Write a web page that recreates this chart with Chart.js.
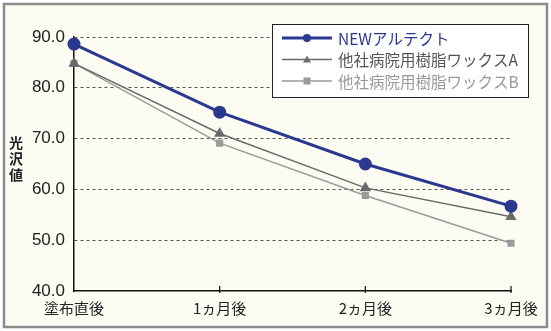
<!DOCTYPE html>
<html><head><meta charset="utf-8">
<script src="https://cdn.jsdelivr.net/npm/chart.js@4/dist/chart.umd.min.js"></script>
<style>html,body{margin:0;padding:0;background:#fff;}canvas{display:block;}</style>
</head><body>
<canvas id="c" width="551" height="331"></canvas>
<script>
const categories = ['塗布直後', '1ヵ月後', '2ヵ月後', '3ヵ月後'];
const seriesNames = ['NEWアルテクト', '他社病院用樹脂ワックスA', '他社病院用樹脂ワックスB'];
const newAltect = [88.6, 75.2, 65.0, 56.7];
const waxA = [84.8, 71.0, 60.3, 54.6];
const waxB = [84.8, 69.1, 58.8, 49.4];
const yTitleChars = ['光', '沢', '値'];

const FONT = '"Noto Sans CJK JP", "Noto Sans", sans-serif';

const frame = {
  id: 'frame',
  beforeDraw(chart) {
    const c = chart.ctx;
    c.save();
    c.fillStyle = '#fff';
    c.fillRect(0, 0, chart.width, chart.height);
    c.fillStyle = '#fdfcf3';
    c.fillRect(4, 4, chart.width - 8, chart.height - 8);
    c.strokeStyle = '#8c8c8c';
    c.lineWidth = 2.5;
    c.strokeRect(4, 4, chart.width - 8, chart.height - 8);
    c.restore();
  },
  afterDraw(chart) {
    const c = chart.ctx;
    const xs = chart.scales.x, ys = chart.scales.y;
    c.save();
    c.strokeStyle = '#111'; c.lineWidth = 1.2;
    categories.forEach((_, i) => {
      if (i === 0) return;
      const x = xs.getPixelForValue(i);
      c.beginPath(); c.moveTo(x, ys.bottom - 5); c.lineTo(x, ys.bottom + 2); c.stroke();
    });
    c.fillStyle = '#222';
    c.font = 'bold 14px ' + FONT;
    c.textAlign = 'center'; c.textBaseline = 'middle';
    yTitleChars.forEach((ch, i) => c.fillText(ch, 16, 143 + i * 16));
    const lx = 272, ly = 24, lw = 256, lh = 73;
    c.fillStyle = '#fff';
    c.fillRect(lx, ly, lw, lh);
    c.strokeStyle = '#222'; c.lineWidth = 1;
    c.strokeRect(lx + 0.5, ly + 0.5, lw, lh);
    const textColors = ['#2b3890', '#555', '#999'];
    chart.data.datasets.forEach((ds, i) => {
      const y = 38 + i * 21.5;
      c.strokeStyle = ds.borderColor; c.lineWidth = ds.borderWidth;
      c.beginPath(); c.moveTo(282, y); c.lineTo(332, y); c.stroke();
      c.fillStyle = ds.pointBackgroundColor;
      const mx = 307;
      if (ds.pointStyle === 'circle') { c.beginPath(); c.arc(mx, y, 4, 0, Math.PI * 2); c.fill(); }
      else if (ds.pointStyle === 'triangle') { c.beginPath(); c.moveTo(mx, y - 4); c.lineTo(mx + 4, y + 3); c.lineTo(mx - 4, y + 3); c.closePath(); c.fill(); }
      else { c.fillRect(mx - 3.5, y - 3.5, 7, 7); }
      c.fillStyle = textColors[i];
      c.font = '15.5px ' + FONT;
      c.textAlign = 'left'; c.textBaseline = 'middle';
      c.fillText(ds.label, 338, y + 1);
    });
    c.restore();
  }
};

new Chart(document.getElementById('c'), {
  type: 'line',
  data: {
    labels: categories,
    datasets: [
      { label: seriesNames[0], data: newAltect, borderColor: '#2b3890', backgroundColor: '#2b3890', pointBackgroundColor: '#2b3890', pointBorderColor: '#2b3890', borderWidth: 3, pointStyle: 'circle', pointRadius: 5, tension: 0, order: 0 },
      { label: seriesNames[1], data: waxA, borderColor: '#6a6a6a', backgroundColor: '#6a6a6a', pointBackgroundColor: '#6a6a6a', pointBorderColor: '#6a6a6a', borderWidth: 1.5, pointStyle: 'triangle', pointRadius: 5, tension: 0, order: 1 },
      { label: seriesNames[2], data: waxB, borderColor: '#9a9a9a', backgroundColor: '#9a9a9a', pointBackgroundColor: '#9a9a9a', pointBorderColor: '#9a9a9a', borderWidth: 1.5, pointStyle: 'rect', pointRadius: 4, tension: 0, order: 2 }
    ]
  },
  options: {
    responsive: false,
    animation: false,
    layout: { padding: { top: 37, right: 40, left: 0, bottom: 0 } },
    plugins: { legend: { display: false }, tooltip: { enabled: false } },
    scales: {
      x: {
        offset: false,
        afterFit(s) { s.height = 40; },
        grid: { display: false },
        border: { display: true, color: '#111', width: 1.5 },
        ticks: { color: '#222', font: { family: FONT, size: 15 }, padding: 0, maxRotation: 0 }
      },
      y: {
        min: 40, max: 90,
        afterFit(s) { s.width = 74; },
        grid: {
          color: (ctx) => ctx.tick && ctx.tick.value === 40 ? 'rgba(0,0,0,0)' : '#555',
          lineWidth: 1, drawTicks: false
        },
        border: { display: true, color: '#111', width: 1.5, dash: [3, 3] },
        ticks: { stepSize: 10, color: '#222', padding: 9, font: { family: '"Liberation Sans", Arial, sans-serif', size: 17 }, callback: (v) => v.toFixed(1) }
      }
    }
  },
  plugins: [frame]
});
</script>
</body></html>
